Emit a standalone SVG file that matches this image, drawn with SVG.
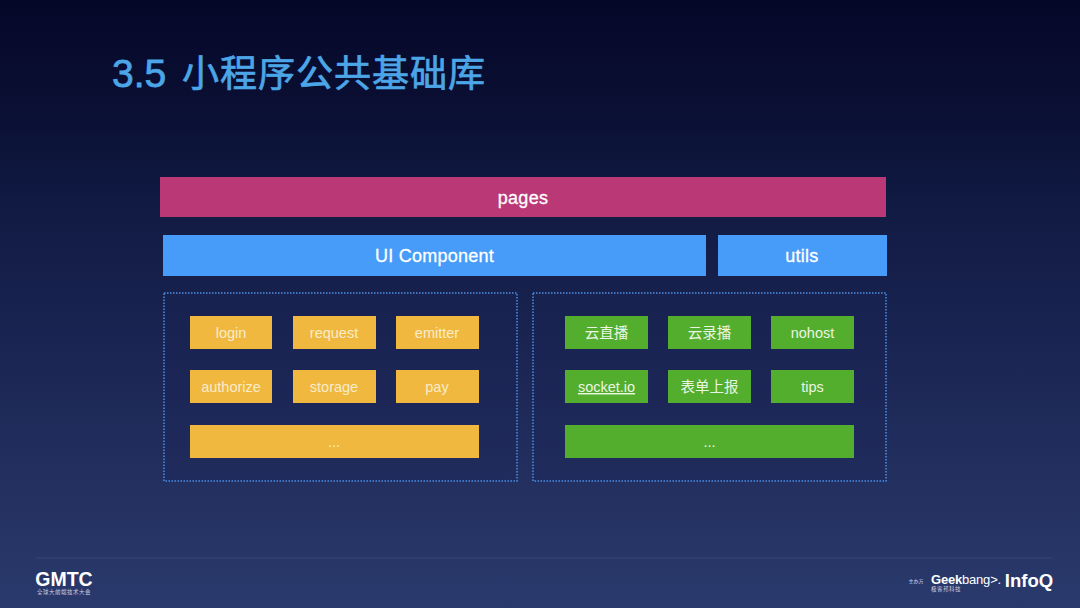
<svg xmlns="http://www.w3.org/2000/svg" width="1080" height="608" viewBox="0 0 1080 608">
<style>
text{font-family:"Liberation Sans","Noto Sans CJK SC",sans-serif;fill:#fff;text-anchor:middle}
.title{font-size:39px;font-weight:400;fill:#4ca5e6;stroke:#4ca5e6;stroke-width:.8px;text-anchor:start}
.big{font-size:18px;stroke:#fff;stroke-width:.3px;letter-spacing:.25px}
.sm{font-size:14.500px;fill:#f8eccb}
.g{font-size:14.500px;fill:#eaf5e2}
.cjk{font-size:14.500px;fill:#eaf5e2}
.y{fill:#f0b83f}.gr{fill:#53ae2e}
.box{fill:#1a2555;fill-opacity:.3;stroke:#4a8fe8;stroke-width:1.500;stroke-dasharray:1.500 1.500}
.sub{fill:#c9d2e8}
</style>
<defs>
<linearGradient id="bg" x1="0" y1="0" x2="0" y2="1">
<stop offset="0" stop-color="#050728"/><stop offset=".17" stop-color="#0a0f33"/><stop offset=".33" stop-color="#101a42"/><stop offset=".58" stop-color="#1b2553"/><stop offset="1" stop-color="#2a3a6c"/>
</linearGradient>
</defs>
<rect width="1080" height="608" fill="url(#bg)"/>
<text class="title" x="112" y="86.500">3.5</text>
<text class="title" x="182" y="86.500" style="font-size:37px;letter-spacing:1px;stroke-width:.7px">小程序公共基础库</text>
<g id="pages"><rect x="160" y="177" width="726" height="40" fill="#bb3876"/><text class="big" x="523" y="203.500">pages</text></g>
<g id="ui-component"><rect x="163" y="235" width="543" height="41" fill="#469cf8"/><text class="big" x="434.500" y="262">UI Component</text></g>
<g id="utils"><rect x="718" y="235" width="169" height="41" fill="#469cf8"/><text class="big" x="802" y="262">utils</text></g>
<g id="left-group"><rect class="box" x="164" y="293" width="353" height="188"/></g>
<g id="right-group"><rect class="box" x="533" y="293" width="353" height="188"/></g>
<g id="login"><rect class="y" x="190" y="316" width="82" height="33"/><text class="sm" x="231" y="338">login</text></g>
<g id="request"><rect class="y" x="293" y="316" width="83" height="33"/><text class="sm" x="334" y="338">request</text></g>
<g id="emitter"><rect class="y" x="396" y="316" width="83" height="33"/><text class="sm" x="437" y="338">emitter</text></g>
<g id="authorize"><rect class="y" x="190" y="370" width="82" height="33"/><text class="sm" x="231" y="392">authorize</text></g>
<g id="storage"><rect class="y" x="293" y="370" width="83" height="33"/><text class="sm" x="334" y="392">storage</text></g>
<g id="pay"><rect class="y" x="396" y="370" width="83" height="33"/><text class="sm" x="437" y="392">pay</text></g>
<g id="left-more"><rect class="y" x="190" y="425" width="289" height="33"/><text class="sm" x="334" y="447">...</text></g>
<g id="cloud-live"><rect class="gr" x="565" y="316" width="83" height="33"/><text class="cjk" x="606.500" y="338">云直播</text></g>
<g id="cloud-record"><rect class="gr" x="668" y="316" width="83" height="33"/><text class="cjk" x="709.500" y="338">云录播</text></g>
<g id="nohost"><rect class="gr" x="771" y="316" width="83" height="33"/><text class="g" x="812.500" y="338">nohost</text></g>
<g id="socket-io"><rect class="gr" x="565" y="370" width="83" height="33"/><text class="g" x="606.500" y="392" text-decoration="underline">socket.io</text></g>
<g id="form-report"><rect class="gr" x="668" y="370" width="83" height="33"/><text class="cjk" x="709.500" y="392">表单上报</text></g>
<g id="tips"><rect class="gr" x="771" y="370" width="83" height="33"/><text class="g" x="812.500" y="392">tips</text></g>
<g id="right-more"><rect class="gr" x="565" y="425" width="289" height="33"/><text class="g" x="709.500" y="447">...</text></g>
<g id="connectors"></g>
<line x1="36" y1="558" x2="1052" y2="558" stroke="#34457a" stroke-width="1"/>
<g id="footer">
<text x="64" y="586" style="font-size:19.500px;font-weight:700">GMTC</text>
<text x="64" y="593.500" style="font-size:5.500px;letter-spacing:.5px" class="sub">全球大前端技术大会</text>
<text x="916" y="583" style="font-size:5px" class="sub">主办方</text>
<text x="931" y="584" style="font-size:13px;text-anchor:start;letter-spacing:-.2px"><tspan font-weight="700">Geek</tspan>bang&gt;.</text>
<text x="946" y="591" style="font-size:5.500px;letter-spacing:.5px" class="sub">极客邦科技</text>
<text x="1029" y="587" style="font-size:18.500px;font-weight:700">InfoQ</text>
</g>
</svg>
